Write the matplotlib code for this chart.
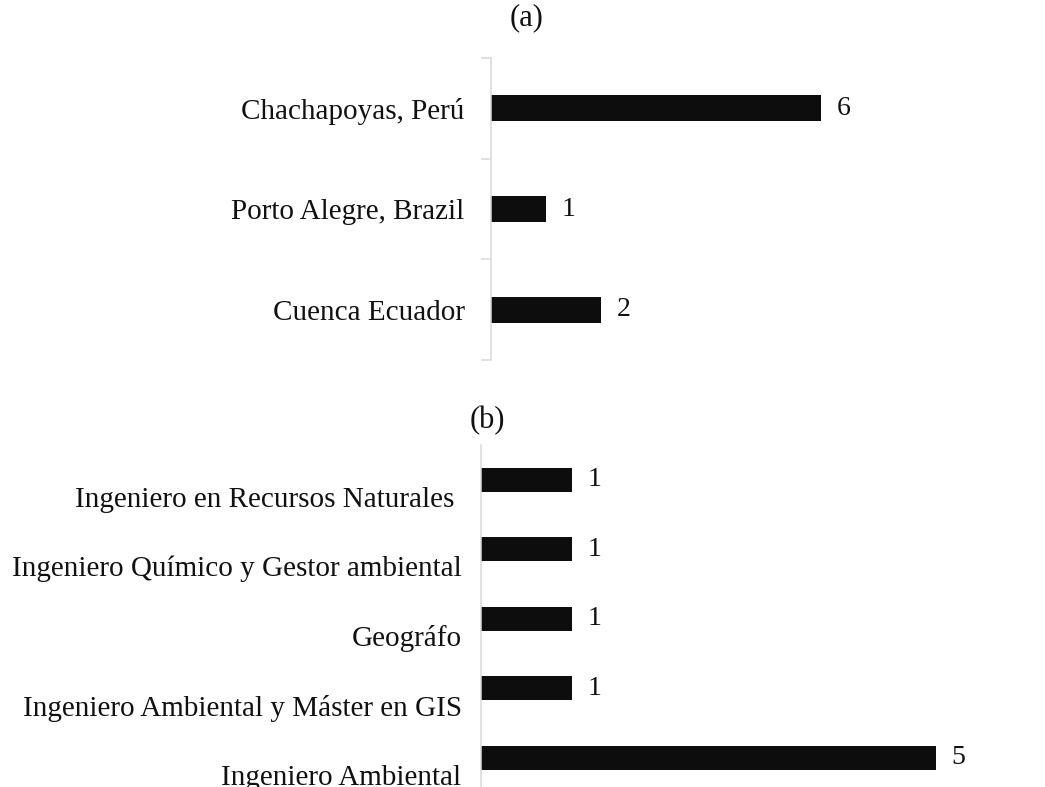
import matplotlib
matplotlib.use("Agg")
import matplotlib.pyplot as plt
from matplotlib.transforms import ScaledTranslation

# Panel (a): study location (top to bottom)
cities = ["Chachapoyas, Perú", "Porto Alegre, Brazil", "Cuenca Ecuador"]
city_counts = [6, 1, 2]

# Panel (b): professional profile (top to bottom)
profiles = [
    "Ingeniero en Recursos Naturales ",
    "Ingeniero Químico y Gestor ambiental",
    "Geográfo",
    "Ingeniero Ambiental y Máster en GIS",
    "Ingeniero Ambiental",
]
profile_counts = [1, 1, 1, 1, 5]

W, H = 1045, 787
DPI = 100
plt.rcParams["font.family"] = ["Liberation Serif", "DejaVu Serif"]
TEXT = "#111111"
BAR = "#0d0d0d"
SPINE = "#d9d9d9"

fig = plt.figure(figsize=(W / DPI, H / DPI), dpi=DPI)


def px_axes(left, top, width, height):
    return fig.add_axes([left / W, 1 - (top + height) / H, width / W, height / H])


# ---------- (a) ----------
ax_a = px_axes(491, 58, 55 * 7, 302)
ya = list(range(len(cities)))
ax_a.barh(ya, city_counts, height=0.26, color=BAR)
ax_a.set_xlim(0, 7)
ax_a.set_ylim(len(cities) - 0.5, -0.5)
for s in ["top", "right", "bottom"]:
    ax_a.spines[s].set_visible(False)
ax_a.spines["left"].set_color(SPINE)
ax_a.spines["left"].set_linewidth(1.1)
ax_a.set_xticks([])
ax_a.set_yticks([i - 0.5 for i in range(len(cities) + 1)])
ax_a.set_yticklabels([])
ax_a.tick_params(axis="y", which="major", length=7, width=1.1, color=SPINE, direction="out")
ax_a.set_yticks(ya, minor=True)
ax_a.set_yticklabels(cities, minor=True, fontsize=21, color=TEXT)
ax_a.tick_params(axis="y", which="minor", length=0, pad=19)
for y, v in zip(ya, city_counts):
    ax_a.annotate(str(v), (v, y), xytext=(11, 0), textcoords="offset points",
                  ha="left", va="center", fontsize=20, color=TEXT)
fig.text(527 / W, 1 - 18 / H, "(a)", ha="center", va="center", fontsize=22, color=TEXT)

# ---------- (b) ----------
ax_b = px_axes(481, 445, 91 * 6, 69.5 * len(profiles))
yb = list(range(len(profiles)))
ax_b.barh(yb, profile_counts, height=0.345, color=BAR)
ax_b.set_xlim(0, 6)
ax_b.set_ylim(len(profiles) - 0.5, -0.5)
for s in ["top", "right", "bottom"]:
    ax_b.spines[s].set_visible(False)
ax_b.spines["left"].set_color(SPINE)
ax_b.spines["left"].set_linewidth(1.1)
ax_b.set_xticks([])
ax_b.set_yticks(yb)
ax_b.set_yticklabels(profiles, fontsize=21, color=TEXT)
ax_b.tick_params(axis="y", length=0, pad=14)
shift = ScaledTranslation(0, -17 / DPI, fig.dpi_scale_trans)
for lab in ax_b.get_yticklabels():
    lab.set_transform(lab.get_transform() + shift)
for y, v in zip(yb, profile_counts):
    ax_b.annotate(str(v), (v, y), xytext=(11, 0), textcoords="offset points",
                  ha="left", va="center", fontsize=20, color=TEXT,
                  annotation_clip=False)
fig.text(487 / W, 1 - 421 / H, "(b)", ha="center", va="center", fontsize=22, color=TEXT)

fig.savefig("out.png", dpi=DPI)
